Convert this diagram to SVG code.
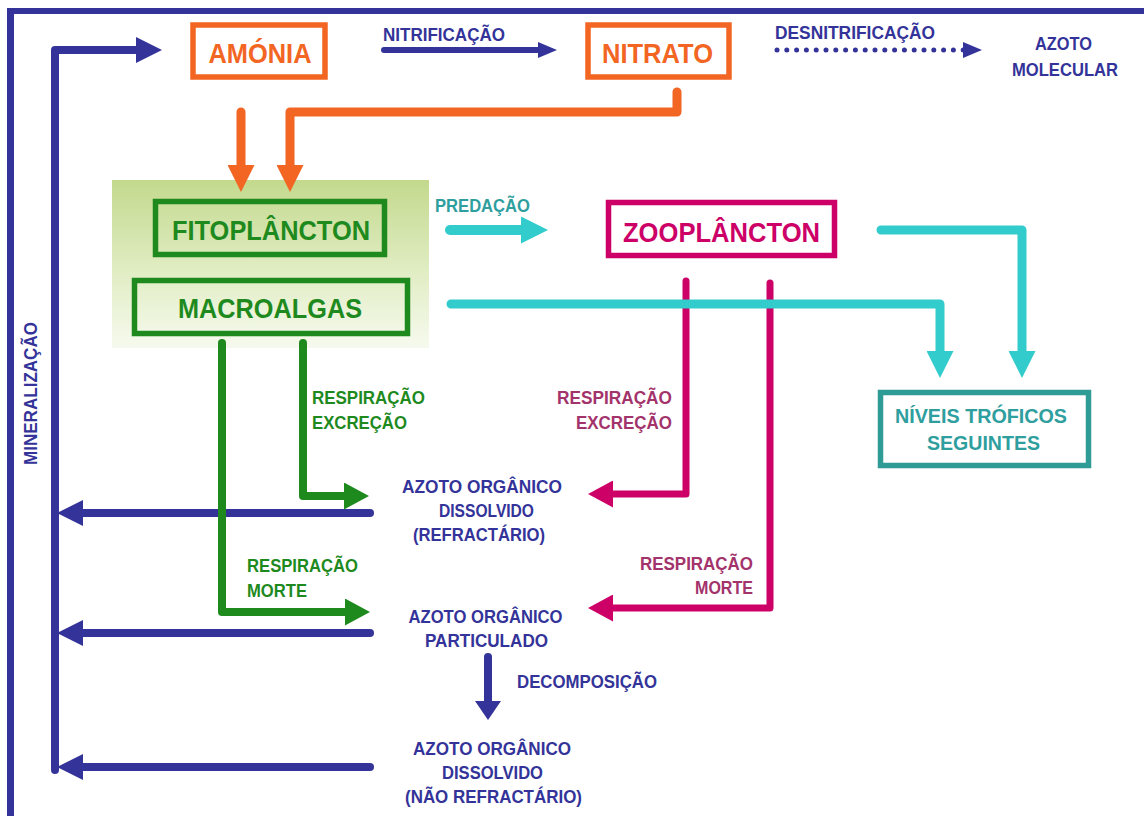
<svg xmlns="http://www.w3.org/2000/svg" width="1144" height="816" viewBox="0 0 1144 816">
<defs>
<style>
text{font-family:"Liberation Sans",Arial,sans-serif;font-weight:bold}
.big{font-size:28.5px}
.lbl{font-size:17.5px}
.az{font-size:19px;fill:#333399}
.blue{fill:#333399}
.orange{fill:#F26522}
.green{fill:#1E8A1E}
.teal{fill:#2E9E9E}
.mag{fill:#CC0066}
.magl{fill:#A3336B}
.box{fill:none;stroke-width:5.5}
.ln{fill:none;stroke-linecap:round;stroke-linejoin:round}
.lb{stroke:#333399;stroke-width:8}
.lo{stroke:#F26522;stroke-width:9}
.lc{stroke:#33CCCC;stroke-width:9}
.lg{stroke:#1E8A1E;stroke-width:8}
.lm{stroke:#CC0066;stroke-width:7}
</style>
<linearGradient id="gbg" x1="0" y1="0" x2="0" y2="1">
<stop offset="0" stop-color="#C3D98D"/>
<stop offset="0.55" stop-color="#E1EDC4"/>
<stop offset="1" stop-color="#F6FAEE"/>
</linearGradient>
<marker id="hb" markerUnits="userSpaceOnUse" markerWidth="26" markerHeight="26" refX="8" refY="13" orient="auto"><path d="M0,0L26,13L0,26Z" fill="#333399"/></marker>
<marker id="hbs" markerUnits="userSpaceOnUse" markerWidth="19" markerHeight="16" refX="6" refY="8" orient="auto"><path d="M0,0L19,8L0,16Z" fill="#333399"/></marker>
<marker id="hbd" markerUnits="userSpaceOnUse" markerWidth="19" markerHeight="26" refX="6" refY="13" orient="auto"><path d="M0,0L19,13L0,26Z" fill="#333399"/></marker>
<marker id="ho" markerUnits="userSpaceOnUse" markerWidth="27" markerHeight="27" refX="8" refY="13.5" orient="auto"><path d="M0,0L27,13.5L0,27Z" fill="#F26522"/></marker>
<marker id="hc" markerUnits="userSpaceOnUse" markerWidth="27" markerHeight="27" refX="8" refY="13.5" orient="auto"><path d="M0,0L27,13.5L0,27Z" fill="#33CCCC"/></marker>
<marker id="hg" markerUnits="userSpaceOnUse" markerWidth="25" markerHeight="27" refX="8" refY="13.5" orient="auto"><path d="M0,0L25,13.5L0,27Z" fill="#1E8A1E"/></marker>
<marker id="hm" markerUnits="userSpaceOnUse" markerWidth="25" markerHeight="27" refX="8" refY="13.5" orient="auto"><path d="M0,0L25,13.5L0,27Z" fill="#CC0066"/></marker>
</defs>
<rect width="1144" height="816" fill="#FFFFFF"/>
<g id="frame" fill="#333399">
<rect x="7" y="8" width="1137" height="6"/>
<rect x="7" y="8" width="7" height="808"/>
</g>
<rect id="algae-bg" x="112" y="180" width="317" height="168" fill="url(#gbg)"/>

<g id="connectors">
<path class="ln lb" d="M55,770 L55,50 L144,50" marker-end="url(#hb)"/>
<path class="ln lb" d="M370,513 L75,513" marker-end="url(#hb)"/>
<path class="ln lb" d="M370,633 L75,633" marker-end="url(#hb)"/>
<path class="ln lb" d="M370,767 L75,767" marker-end="url(#hb)"/>
<path class="ln" stroke="#333399" stroke-width="6" d="M384,50 L544,50" marker-end="url(#hbs)"/>
<path fill="none" stroke="#333399" stroke-width="5" stroke-linecap="round" stroke-dasharray="0 9.8" d="M777,50 L964,50"/>
<path d="M963,42 L982,50 L963,58Z" fill="#333399"/>
<path class="ln lo" d="M241,112 L241,173" marker-end="url(#ho)"/>
<path class="ln lo" d="M677,92 L677,112 L290,112 L290,173" marker-end="url(#ho)"/>
<path class="ln" stroke="#333399" stroke-width="8" d="M488,657 L488,707" marker-end="url(#hbd)"/>
<path class="ln lg" d="M222,343 L222,612 L353,612" marker-end="url(#hg)"/>
<path class="ln lg" d="M303,343 L303,496 L352,496" marker-end="url(#hg)"/>
<path class="ln lm" d="M686,281 L686,494 L605,494" marker-end="url(#hm)"/>
<path class="ln lm" d="M770,283 L770,608 L605,608" marker-end="url(#hm)"/>
<path class="ln" stroke="#33CCCC" stroke-width="10" d="M450,230 L529,230" marker-end="url(#hc)"/>
<path class="ln lc" d="M451,304 L940,304 L940,359" marker-end="url(#hc)"/>
<path class="ln lc" d="M881,230 L1022,230 L1022,359" marker-end="url(#hc)"/>
</g>

<g id="amonia">
<rect class="box" x="193" y="25" width="132" height="52" stroke="#F26522" fill="#FFFFFF"/>
<text class="big orange" x="260" y="63" text-anchor="middle" textLength="103" lengthAdjust="spacingAndGlyphs">AMÓNIA</text>
</g>
<g id="nitrato">
<rect class="box" x="588" y="25" width="141" height="52" stroke="#F26522" fill="#FFFFFF"/>
<text class="big orange" x="657.5" y="63" text-anchor="middle" textLength="111" lengthAdjust="spacingAndGlyphs">NITRATO</text>
</g>
<g id="azoto-molecular">
<text class="lbl blue" x="1063.5" y="50" text-anchor="middle" textLength="57" lengthAdjust="spacingAndGlyphs">AZOTO</text>
<text class="lbl blue" x="1065" y="76" text-anchor="middle" textLength="106" lengthAdjust="spacingAndGlyphs">MOLECULAR</text>
</g>
<g id="fitoplancton">
<rect class="box" x="155.5" y="201.5" width="229" height="53" stroke="#1E8A1E"/>
<text class="big green" x="271" y="240" text-anchor="middle" textLength="198" lengthAdjust="spacingAndGlyphs">FITOPLÂNCTON</text>
</g>
<g id="macroalgas">
<rect class="box" x="134.5" y="280.5" width="273" height="53" stroke="#1E8A1E"/>
<text class="big green" x="270" y="318" text-anchor="middle" textLength="184" lengthAdjust="spacingAndGlyphs">MACROALGAS</text>
</g>
<g id="zooplancton">
<rect class="box" x="608.5" y="202.5" width="226" height="53" stroke="#CC0066" fill="#FFFFFF"/>
<text class="big mag" x="721.5" y="242" text-anchor="middle" textLength="197" lengthAdjust="spacingAndGlyphs">ZOOPLÂNCTON</text>
</g>
<g id="niveis-troficos">
<rect class="box" x="880.5" y="392.5" width="208" height="73" stroke="#2E9B94" fill="#FFFFFF"/>
<text class="teal" font-size="21" x="981" y="423" text-anchor="middle" textLength="172" lengthAdjust="spacingAndGlyphs">NÍVEIS TRÓFICOS</text>
<text class="teal" font-size="21" x="983.5" y="450" text-anchor="middle" textLength="113" lengthAdjust="spacingAndGlyphs">SEGUINTES</text>
</g>
<g id="aod-refractario">
<text class="az" x="482" y="493" text-anchor="middle" textLength="160" lengthAdjust="spacingAndGlyphs">AZOTO ORGÂNICO</text>
<text class="az" x="486.5" y="517" text-anchor="middle" textLength="95" lengthAdjust="spacingAndGlyphs">DISSOLVIDO</text>
<text class="az" x="479" y="541" text-anchor="middle" textLength="132" lengthAdjust="spacingAndGlyphs">(REFRACTÁRIO)</text>
</g>
<g id="aop">
<text class="az" x="485.5" y="623" text-anchor="middle" textLength="154" lengthAdjust="spacingAndGlyphs">AZOTO ORGÂNICO</text>
<text class="az" x="486.5" y="647" text-anchor="middle" textLength="123" lengthAdjust="spacingAndGlyphs">PARTICULADO</text>
</g>
<g id="aod-nao-refractario">
<text class="az" x="492" y="755" text-anchor="middle" textLength="158" lengthAdjust="spacingAndGlyphs">AZOTO ORGÂNICO</text>
<text class="az" x="492.5" y="779" text-anchor="middle" textLength="101" lengthAdjust="spacingAndGlyphs">DISSOLVIDO</text>
<text class="az" x="493.5" y="803" text-anchor="middle" textLength="177" lengthAdjust="spacingAndGlyphs">(NÃO REFRACTÁRIO)</text>
</g>

<g id="labels">
<text class="lbl blue" x="383" y="41" textLength="122" lengthAdjust="spacingAndGlyphs">NITRIFICAÇÃO</text>
<text class="lbl blue" x="775" y="39" textLength="160" lengthAdjust="spacingAndGlyphs">DESNITRIFICAÇÃO</text>
<text class="lbl teal" x="435" y="212" textLength="95" lengthAdjust="spacingAndGlyphs">PREDAÇÃO</text>
<text class="lbl blue" x="517" y="688" textLength="140" lengthAdjust="spacingAndGlyphs">DECOMPOSIÇÃO</text>
<text class="lbl blue" transform="translate(37,393.5) rotate(-90)" text-anchor="middle" textLength="143" lengthAdjust="spacingAndGlyphs">MINERALIZAÇÃO</text>
<text class="lbl green" x="312" y="404" textLength="113" lengthAdjust="spacingAndGlyphs">RESPIRAÇÃO</text>
<text class="lbl green" x="312" y="429" textLength="95" lengthAdjust="spacingAndGlyphs">EXCREÇÃO</text>
<text class="lbl green" x="247" y="572" textLength="111" lengthAdjust="spacingAndGlyphs">RESPIRAÇÃO</text>
<text class="lbl green" x="247" y="597" textLength="60" lengthAdjust="spacingAndGlyphs">MORTE</text>
<text class="lbl magl" x="672" y="404" text-anchor="end" textLength="115" lengthAdjust="spacingAndGlyphs">RESPIRAÇÃO</text>
<text class="lbl magl" x="672" y="429" text-anchor="end" textLength="96" lengthAdjust="spacingAndGlyphs">EXCREÇÃO</text>
<text class="lbl magl" x="753" y="570" text-anchor="end" textLength="113" lengthAdjust="spacingAndGlyphs">RESPIRAÇÃO</text>
<text class="lbl magl" x="753" y="594" text-anchor="end" textLength="58" lengthAdjust="spacingAndGlyphs">MORTE</text>
</g>
</svg>
